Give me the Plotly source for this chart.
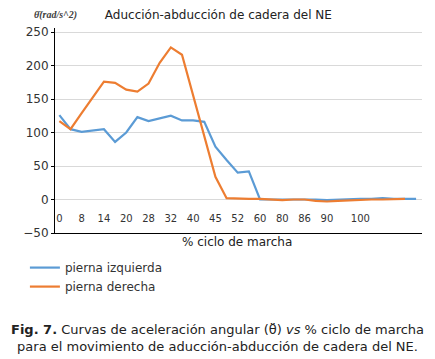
import plotly.graph_objects as go

# category index positions (33 categories along % ciclo de marcha)
categories = list(range(33))

tick_positions = [0, 2, 4, 6, 8, 10, 12, 14, 16, 18, 20, 22, 24, 27]
tick_labels = ["0", "8", "14", "20", "28", "32", "40", "45", "52", "60", "80", "86", "90", "100"]

pierna_izquierda = [126, 105, 101, 103, 105, 86, 100, 123, 117, 121,
                    125, 118, 118, 116, 79, 59, 40, 42, 0, 0,
                    0, 1, 1, 0, -1, 0, 1, 1, 1, 2,
                    1, 1, 1]
pierna_derecha = [117, 105, 129, 153, 176, 174, 164, 161, 173, 204,
                  227, 216, 156, 94, 34, 2, 1, 1, 1, 0,
                  -1, 0, 0, -2, -3, -2, -1, -1, 0, 0,
                  0, 1]

y_ticks = [-50, 0, 50, 100, 150, 200, 250]

FONT = "DejaVu Sans"
TXT = "#333333"

fig = go.Figure()
fig.add_trace(go.Scatter(x=categories[:len(pierna_izquierda)], y=pierna_izquierda,
                         mode="lines", name="pierna izquierda",
                         line=dict(color="#5B9BD5", width=2.2)))
fig.add_trace(go.Scatter(x=categories[:len(pierna_derecha)], y=pierna_derecha,
                         mode="lines", name="pierna derecha",
                         line=dict(color="#ED7D31", width=2.2)))
# helper trace so the label axis is drawn
fig.add_trace(go.Scatter(x=[tick_positions[0]], y=[None], xaxis="x2", showlegend=False,
                         hoverinfo="skip"))

fig.update_layout(
    width=435, height=359,
    margin=dict(l=55, r=13, t=28, b=126, autoexpand=False),
    paper_bgcolor="white", plot_bgcolor="white",
    font=dict(family=FONT, size=12, color=TXT),
    title=dict(text="Aducción-abducción de cadera del NE", x=0.502, y=0.958,
               xanchor="center", yanchor="middle",
               font=dict(family=FONT, size=12, color="#222222")),
    xaxis=dict(range=[-0.39, 32.53], showgrid=False, zeroline=False,
               showline=True, linecolor="black", linewidth=1,
               showticklabels=False, ticks=""),
    xaxis2=dict(overlaying="x", anchor="free", position=50 / 306,
                range=[-0.39, 32.53], showgrid=False, zeroline=False, showline=False,
                tickmode="array", tickvals=tick_positions, ticktext=tick_labels,
                ticks="outside", ticklen=9, tickcolor="rgba(0,0,0,0)",
                tickfont=dict(family=FONT, size=10, color=TXT), side="bottom"),
    yaxis=dict(range=[-50, 256], tickmode="array", tickvals=y_ticks,
               showgrid=True, gridcolor="#d9d9d9", gridwidth=1, zeroline=False,
               showline=True, linecolor="black", linewidth=1,
               ticks="outside", ticklen=3, tickcolor="black",
               tickfont=dict(family=FONT, size=12, color=TXT)),
    legend=dict(x=-0.082, y=-0.098, xanchor="left", yanchor="top",
                orientation="v", font=dict(family=FONT, size=12, color=TXT),
                bgcolor="rgba(0,0,0,0)", tracegroupgap=0),
    showlegend=True,
)

fig.add_annotation(text="% ciclo de marcha", xref="paper", yref="paper",
                   x=0.497, y=-0.046, xanchor="center", yanchor="middle",
                   showarrow=False, font=dict(family=FONT, size=12, color="#222222"))
fig.add_annotation(text="<i><b>θ̈(rad/s^2)</b></i>", xref="paper", yref="paper",
                   x=0.0, y=1.063, xanchor="center", yanchor="middle",
                   showarrow=False, font=dict(family="Liberation Serif", size=10, color="#404040"))
fig.add_annotation(text="<b>Fig. 7.</b> Curvas de aceleración angular (θ̈) <i>vs</i> % ciclo de marcha"
                        "<br>para el movimiento de aducción-abducción de cadera del NE.",
                   xref="paper", yref="paper", x=0.444, y=-0.512,
                   xanchor="center", yanchor="middle", showarrow=False, align="center",
                   font=dict(family=FONT, size=13, color="#222222"))

fig.write_html("out.html", config={"displayModeBar": False},
               post_script="document.body.style.margin='0';document.body.style.padding='0';")
